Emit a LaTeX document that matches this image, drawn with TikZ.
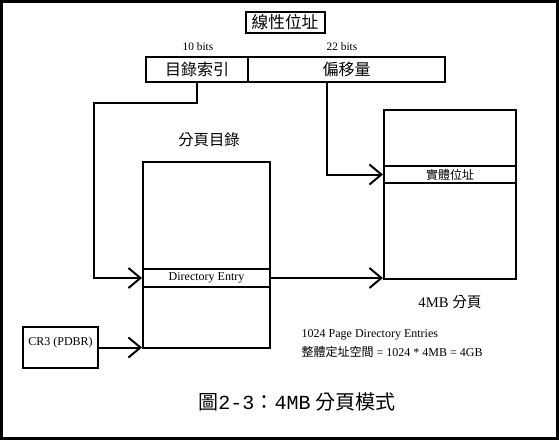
\documentclass[tikz,border=0pt]{standalone}
\usepackage{fontspec}
\setmainfont{Liberation Serif}
\setmonofont{Liberation Mono}
\newfontfamily\cjk{Noto Sans CJK TC}
\usetikzlibrary{arrows.meta,positioning}

\begin{document}
\begin{tikzpicture}[
    x=0.75pt, y=-0.75pt,
    box/.style={rectangle, draw, line width=1.5pt, inner sep=0pt, text centered},
    strip/.style={box, minimum height=13.5pt},
    arrow/.style={-{Straight Barb[length=9pt,width=15pt]}, line width=1.5pt},
    line/.style={line width=1.5pt}
]
    \useasboundingbox (0,0) rectangle (559,440);
    \draw[line width=2.4pt] (1.6,1.6) rectangle (557.4,438.2);

    % Linear address
    \node[box, minimum width=59.25pt, minimum height=15.75pt, font=\cjk\fontsize{12.5}{14}\selectfont] (lin) at (285,22.5) {線性位址};
    \node[box, minimum width=76.5pt, minimum height=18.75pt, font=\cjk\fontsize{12}{14}\selectfont] (idx) at (197,69.5) {目錄索引};
    \node[box, minimum width=147.75pt, minimum height=18.75pt, font=\cjk\fontsize{12}{14}\selectfont] (off) at (346.5,69.5) {偏移量};
    \node[font=\fontsize{8.5}{10}\selectfont] (idxbits) at (198,47) {10 bits};
    \node[font=\fontsize{8.5}{10}\selectfont] (offbits) at (342,47) {22 bits};

    % Page directory
    \node[font=\cjk\fontsize{11.5}{13}\selectfont] (dirlabel) at (209,140) {分頁目錄};
    \node[box, minimum width=95.25pt, minimum height=139.5pt] (dir) at (206.5,255) {};
    \node[strip, minimum width=95.25pt, font=\fontsize{9}{10}\selectfont] (entry) at (206.5,278) {Directory Entry};

    % CR3
    \node[box, minimum width=56.25pt, minimum height=30.75pt, text height=6.5pt, text depth=9.5pt, font=\fontsize{9}{10}\selectfont] (cr3) at (60.5,347.5) {CR3 (PDBR)};

    % 4MB page
    \node[box, minimum width=99pt, minimum height=126.75pt] (page) at (450,194.5) {};
    \node[strip, minimum width=99pt, minimum height=12.75pt, font=\cjk\fontsize{9}{10}\selectfont] (phys) at (450,174.5) {實體位址};
    \node[font=\fontsize{11}{13}\selectfont] (pagelabel) at (450,302) {4MB {\cjk 分頁}};

    % Notes
    \node[anchor=west, font=\fontsize{9}{10}\selectfont] (note1) at (297,335) {1024 Page Directory Entries};
    \node[anchor=west, font=\fontsize{9}{10}\selectfont] (note2) at (297,352) {{\cjk 整體定址空間} = 1024 * 4MB = 4GB};

    % Caption
    \node[font=\fontsize{15}{17}\selectfont] (caption) at (297,402) {{\cjk 圖}\texttt{2-3}{\cjk ：}\texttt{4MB} {\cjk 分頁模式}};

    % Connections
    \coordinate (bendL) at (94,103);
    \coordinate (offtap) at (327,82);
    \draw[arrow] (idx.south) |- (bendL) |- (entry.west);
    \draw[arrow] (offtap) |- (phys.west);
    \draw[arrow] (entry.east) -- (entry.east -| page.west);
    \draw[arrow] (cr3.east) -- (cr3.east -| dir.west);
\end{tikzpicture}
\end{document}
